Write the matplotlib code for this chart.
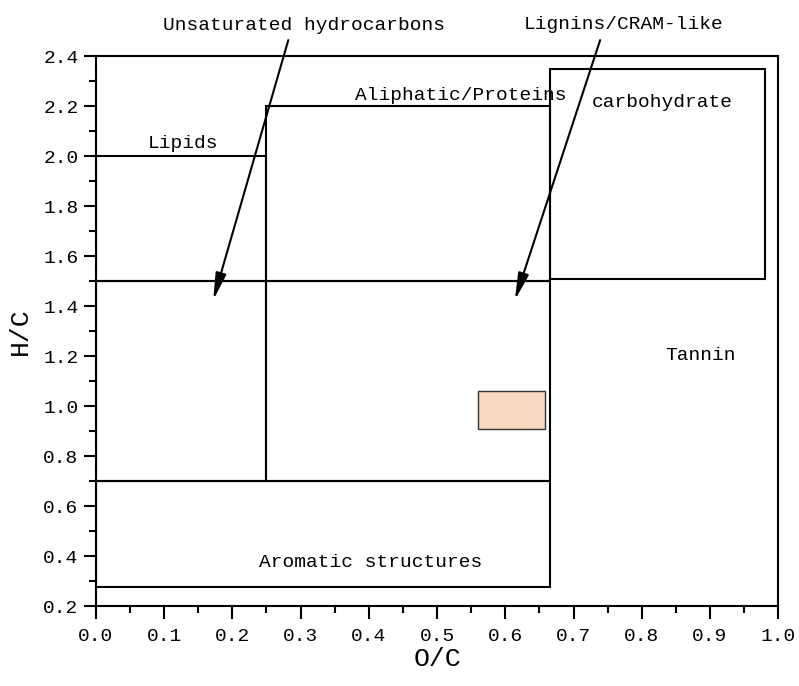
import matplotlib.pyplot as plt
from matplotlib.patches import Rectangle
from matplotlib.ticker import MultipleLocator

plt.rcParams['font.family'] = ['Liberation Mono', 'DejaVu Sans Mono']

# region boxes: (x0, y0, x1, y1)
box_names = ['Lipids', 'Aliphatic/Proteins', 'Lignins/CRAM-like', 'Unsaturated',
             'Aromatic', 'carbohydrate']
box_x0 = [0.0, 0.25, 0.25, 0.0, 0.0, 0.665]
box_y0 = [1.5, 1.5, 0.7, 0.7, 0.276, 1.51]
box_x1 = [0.25, 0.665, 0.665, 0.25, 0.665, 0.98]
box_y1 = [2.0, 2.2, 1.5, 1.5, 0.7, 2.35]

# highlighted sample region
hl_x = [0.56, 0.658]
hl_y = [0.908, 1.06]

# labels
lab_text = ['Lipids', 'Aliphatic/Proteins', 'carbohydrate', 'Aromatic structures', 'Tannin']
lab_x = [0.127, 0.534, 0.83, 0.403, 0.886]
lab_y = [2.052, 2.244, 2.216, 0.376, 1.204]

# arrow annotations
arr_text = ['Unsaturated hydrocarbons', 'Lignins/CRAM-like']
arr_tx = [0.305, 0.774]
arr_ty = [2.524, 2.528]
arr_sx = [0.282, 0.739]
arr_sy = [2.464, 2.464]
arr_ex = [0.172, 0.614]
arr_ey = [1.424, 1.424]

fig = plt.figure(figsize=(7.99, 6.86), dpi=100)
ax = fig.add_axes([0.120, 0.1166, 0.854, 0.8016])

for x0, y0, x1, y1 in zip(box_x0, box_y0, box_x1, box_y1):
    ax.add_patch(Rectangle((x0, y0), x1 - x0, y1 - y0, fill=False,
                           edgecolor='black', lw=1.5))

ax.add_patch(Rectangle((hl_x[0], hl_y[0]), hl_x[1] - hl_x[0], hl_y[1] - hl_y[0],
                       facecolor='#fbd9be', edgecolor='#333333', lw=1.0))

for t, x, y in zip(lab_text, lab_x, lab_y):
    ax.text(x, y, t, ha='center', va='center', fontsize=14)

for t, tx, ty, sx, sy, ex, ey in zip(arr_text, arr_tx, arr_ty, arr_sx, arr_sy, arr_ex, arr_ey):
    ax.text(tx, ty, t, ha='center', va='center', fontsize=14, clip_on=False)
    ax.annotate('', xy=(ex, ey), xytext=(sx, sy),
                arrowprops=dict(arrowstyle='-|>,head_length=0.9,head_width=0.18',
                                color='black', lw=1.5,
                                mutation_scale=18, shrinkA=0, shrinkB=0),
                annotation_clip=False)

ax.set_xlim(0, 1.0)
ax.set_ylim(0.2, 2.4)
ax.xaxis.set_major_locator(MultipleLocator(0.1))
ax.xaxis.set_minor_locator(MultipleLocator(0.05))
ax.yaxis.set_major_locator(MultipleLocator(0.2))
ax.yaxis.set_minor_locator(MultipleLocator(0.1))
ax.xaxis.set_major_formatter(plt.FuncFormatter(lambda v, p: f'{v:.1f}'))
ax.yaxis.set_major_formatter(plt.FuncFormatter(lambda v, p: f'{v:.1f}'))
ax.tick_params(which='major', direction='out', length=9, width=1.5, labelsize=14)
ax.tick_params(axis='x', which='major', pad=7)
ax.tick_params(which='minor', direction='out', length=5, width=1.5)
ax.tick_params(top=False, right=False, which='both')
for s in ax.spines.values():
    s.set_linewidth(1.5)

ax.set_xlabel('O/C', fontsize=19, labelpad=1)
ax.set_ylabel('H/C', fontsize=19, labelpad=8)

fig.savefig('out.png', dpi=100)
